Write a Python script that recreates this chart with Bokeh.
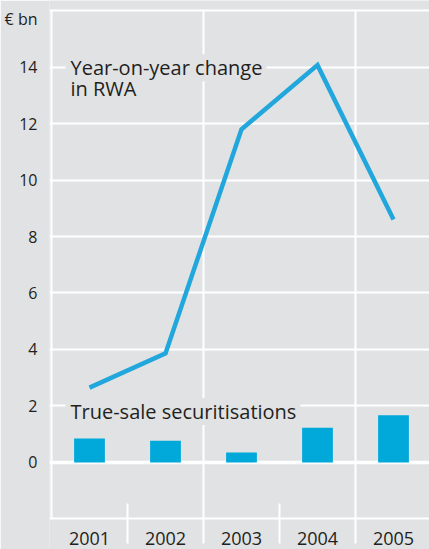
from bokeh.plotting import figure
from bokeh.models import Range1d, FixedTicker, Label, Span
from bokeh.core.properties import value
from bokeh.embed import file_html
from bokeh.resources import INLINE

# ---- data ----
years = ["2001", "2002", "2003", "2004", "2005"]
rwa_change = [2.65, 3.86, 11.8, 14.07, 8.6]          # Year-on-year change in RWA (EUR bn)
securitisations = [0.85, 0.77, 0.35, 1.23, 1.67]    # True-sale securitisations (EUR bn)
y_ticks = [-2, 0, 2, 4, 6, 8, 10, 12, 14, 16]
y_unit = "€ bn"
y_unit_pos = 15.72

BG = "#e1e2e4"
TXT = "#231f20"
BAR = "#00a9d9"
LINE = "#22a7dd"
FONT = "Open Sans"

n = len(years)
x = [i + 0.5 for i in range(n)]
y_top, y_bot = 16.36, -3.085
x0 = -2 / 76

p = figure(width=429, height=549, output_backend="svg", toolbar_location=None,
           x_range=Range1d(x0, x0 + 380 / 76), y_range=Range1d(y_bot, y_top),
           x_axis_location=None,
           min_border_left=49, min_border_right=0, min_border_top=0, min_border_bottom=0,
           background_fill_color=BG, border_fill_color=BG, outline_line_color=None)

# horizontal grid
p.ygrid.ticker = FixedTicker(ticks=y_ticks)
p.ygrid.grid_line_color = "white"
p.ygrid.grid_line_width = 2
p.xgrid.grid_line_color = None
p.add_layout(Span(location=0, dimension="width", line_color="white", line_width=3.5, level="underlay"))

# vertical structure lines: left border, full lines between pairs of years, short separators
p.segment(x0=[0], x1=[0], y0=[-2], y1=[16], line_color="white", line_width=2)
sep_x = [i for i in range(1, n)]
sep_top = [16 if i % 2 == 0 else -1.456 for i in sep_x]
p.segment(x0=sep_x, x1=sep_x, y0=[-2.873] * len(sep_x), y1=sep_top, line_color="white", line_width=2)

# y axis
ya = p.yaxis[0]
ya.ticker = FixedTicker(ticks=y_ticks[1:-1] + [y_unit_pos])
ya.major_label_overrides = {y_unit_pos: y_unit}
ya.major_tick_line_color = None
ya.minor_tick_line_color = None
ya.major_tick_out = 0
ya.major_tick_in = 0
ya.axis_line_color = None
ya.major_label_standoff = 12
ya.major_label_text_font = FONT
ya.major_label_text_font_size = "16px"
ya.major_label_text_color = TXT

# glyphs
p.vbar(x=x, top=securitisations, bottom=0, width=0.405, fill_color=BAR, line_color=None)
p.line(x, rwa_change, line_width=4.5, line_color=LINE, line_join="miter")

# category labels along the bottom
p.text(x=x, y=[-2.706] * n, text=years, text_font=value(FONT), text_font_size="18px",
       text_color=TXT, text_align="center", text_baseline="middle")

# series labels
pad = dict(left=5, right=4, top=0, bottom=0)
lx = 0.184
p.add_layout(Label(x=lx, y=13.25, text="in RWA", text_font=FONT,
                   text_font_size="20px", text_color=TXT, text_baseline="alphabetic",
                   background_fill_color=BG, padding=pad))
p.add_layout(Label(x=lx, y=13.98, text="Year-on-year change", text_font=FONT,
                   text_font_size="20px", text_color=TXT, text_baseline="alphabetic",
                   background_fill_color=BG, padding=pad))
p.add_layout(Label(x=lx, y=1.80, text="True-sale securitisations", text_font=FONT,
                   text_font_size="20px", text_color=TXT, text_baseline="alphabetic",
                   background_fill_color=BG, padding=pad))

open("out.html", "w").write(file_html(p, INLINE))
